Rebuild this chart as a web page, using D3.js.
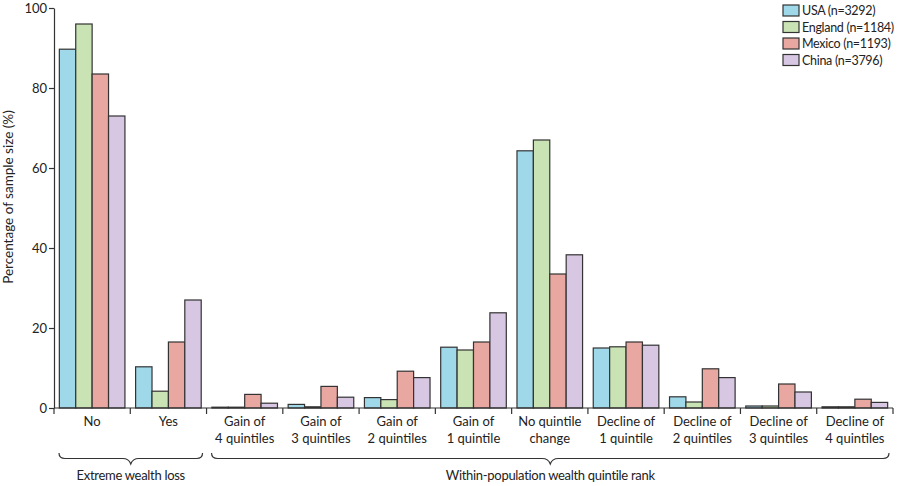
<!DOCTYPE html>
<html>
<head>
<meta charset="utf-8">
<script src="https://cdn.jsdelivr.net/npm/d3@7/dist/d3.min.js"></script>
<style>
  html, body { margin: 0; padding: 0; background: #fff; }
  svg { display: block; }
  text { font-family: Lato, "Open Sans", sans-serif; fill: #222; }
</style>
</head>
<body>
<svg id="chart" width="900" height="486"></svg>
<script>
const categories = [
  ["No"], ["Yes"],
  ["Gain of", "4 quintiles"], ["Gain of", "3 quintiles"], ["Gain of", "2 quintiles"],
  ["Gain of", "1 quintile"], ["No quintile", "change"], ["Decline of", "1 quintile"],
  ["Decline of", "2 quintiles"], ["Decline of", "3 quintiles"], ["Decline of", "4 quintiles"]
];
const seriesNames = ["USA (n=3292)", "England (n=1184)", "Mexico (n=1193)", "China (n=3796)"];
const usa     = [89.7, 10.3, 0.2, 0.9, 2.6, 15.2, 64.3, 15.0, 2.8, 0.5, 0.3];
const england = [96.0,  4.2, 0.2, 0.3, 2.1, 14.5, 67.0, 15.3, 1.5, 0.5, 0.3];
const mexico  = [83.5, 16.5, 3.4, 5.4, 9.2, 16.5, 33.5, 16.5, 9.8, 6.0, 2.2];
const china   = [73.0, 27.0, 1.2, 2.7, 7.6, 23.8, 38.3, 15.7, 7.6, 4.0, 1.4];
const yTicks = [0, 20, 40, 60, 80, 100];
const groups = [
  {label: "Extreme wealth loss", from: 0, to: 1},
  {label: "Within-population wealth quintile rank", from: 2, to: 10}
];
const colors = ["#9ed8e9", "#c9e3b5", "#e9a7a1", "#d7c7e3"];

const series = [usa, england, mexico, china];
const svg = d3.select("#chart");
const mLeft = 54, mRight = 893, mTop = 8, mBottom = 408;

const x = d3.scaleBand().domain(d3.range(categories.length)).range([mLeft, mRight]).paddingInner(0.14).paddingOuter(0.07);
const xOuter = d3.scaleBand().domain(d3.range(categories.length)).range([mLeft, mRight]);
const xSub = d3.scaleBand().domain(d3.range(series.length)).range([0, x.bandwidth()]);
const y = d3.scaleLinear().domain([0, 100]).range([mBottom, mTop]);

// bars
const g = svg.append("g");
categories.forEach((c, i) => {
  series.forEach((s, j) => {
    g.append("rect")
      .attr("x", x(i) + xSub(j))
      .attr("y", y(s[i]))
      .attr("width", xSub.bandwidth())
      .attr("height", y(0) - y(s[i]))
      .attr("fill", colors[j])
      .attr("stroke", "#333")
      .attr("stroke-width", 1.2);
  });
});

// y axis
const yAxis = d3.axisLeft(y).tickValues(yTicks).tickSize(5).tickSizeOuter(0);
const ya = svg.append("g").attr("transform", `translate(${mLeft},0)`).call(yAxis);
ya.select(".domain").attr("stroke", "#333").attr("stroke-width", 1.2);
ya.selectAll(".tick line").attr("stroke", "#333").attr("stroke-width", 1.2);
ya.selectAll(".tick text").style("font-family", "Lato, sans-serif").style("font-size", "13px").attr("fill", "#222").attr("x", -7);

// x axis line and boundary ticks
svg.append("line").attr("x1", mLeft).attr("x2", mRight).attr("y1", mBottom).attr("y2", mBottom)
  .attr("stroke", "#333").attr("stroke-width", 1.2);
const bounds = d3.range(categories.length).map(i => xOuter(i)).concat([mRight]);
svg.selectAll(".bt").data(bounds).join("line")
  .attr("x1", d => d).attr("x2", d => d).attr("y1", mBottom).attr("y2", mBottom + 6)
  .attr("stroke", "#333").attr("stroke-width", 1.2);

// category labels
categories.forEach((c, i) => {
  const cx = xOuter(i) + xOuter.bandwidth() / 2;
  const t = svg.append("text").attr("x", cx).attr("y", 426).attr("text-anchor", "middle").style("font-size", "13px");
  c.forEach((line, k) => {
    t.append("tspan").attr("x", cx).attr("dy", k === 0 ? 0 : 17).text(line);
  });
});

// braces
function brace(x1, x2, yTop, yLine, yTip) {
  const mid = (x1 + x2) / 2;
  const r = 4;
  return `M${x1},${yTop} Q${x1},${yLine} ${x1 + r + 2},${yLine} L${mid - 8},${yLine} Q${mid - 2},${yLine} ${mid},${yTip} Q${mid + 2},${yLine} ${mid + 8},${yLine} L${x2 - r - 2},${yLine} Q${x2},${yLine} ${x2},${yTop}`;
}
groups.forEach(gr => {
  const x1 = xOuter(gr.from) + 5, x2 = xOuter(gr.to) + xOuter.bandwidth() - 4;
  svg.append("path").attr("d", brace(x1, x2, 453, 458.5, 464))
    .attr("fill", "none").attr("stroke", "#333").attr("stroke-width", 1.2);
  svg.append("text").attr("x", (x1 + x2) / 2).attr("y", 480).attr("text-anchor", "middle")
    .style("font-size", "13px").style("letter-spacing", "-0.3px").text(gr.label);
});

// y label
svg.append("text").attr("transform", `translate(13,197) rotate(-90)`)
  .attr("text-anchor", "middle").style("font-size", "13.5px").text("Percentage of sample size (%)");

// legend
const lg = svg.append("g").attr("transform", "translate(783,5)");
seriesNames.forEach((n, j) => {
  lg.append("rect").attr("x", 0).attr("y", j * 16.5).attr("width", 16).attr("height", 11)
    .attr("fill", colors[j]).attr("stroke", "#333").attr("stroke-width", 1.2);
  lg.append("text").attr("x", 19).attr("y", j * 16.5 + 10).style("font-size", "12.5px")
    .style("letter-spacing", "-0.3px").text(n);
});
</script>
</body>
</html>
